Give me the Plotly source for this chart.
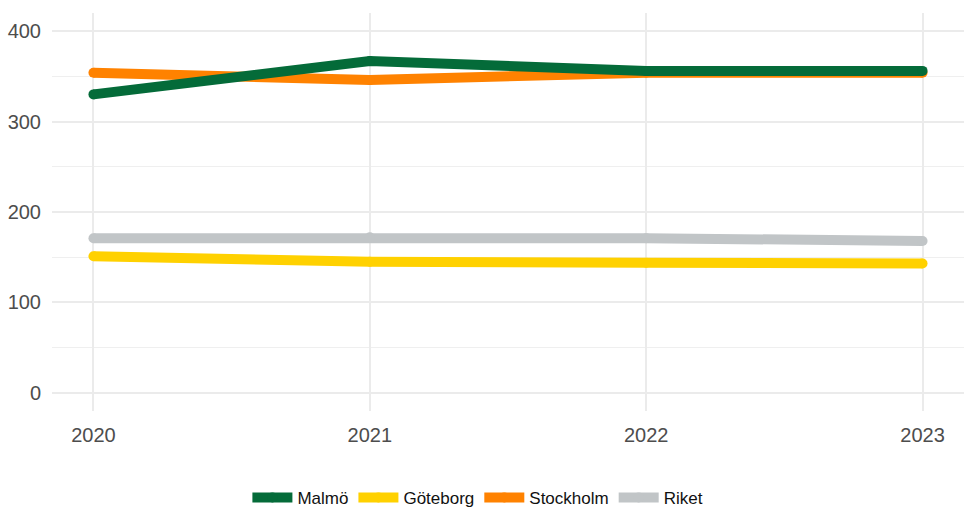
import plotly.graph_objects as go

years = [2020, 2021, 2022, 2023]
series_names = ["Malmö", "Göteborg", "Stockholm", "Riket"]
malmo = [330, 367, 356, 356]
goteborg = [151, 145, 144, 143]
stockholm = [354, 346, 354, 354]
riket = [171, 172, 171, 168]
colors = {"Malmö": "#046B39", "Göteborg": "#FFD100", "Stockholm": "#FF8200", "Riket": "#C1C5C7"}
values = {"Malmö": malmo, "Göteborg": goteborg, "Stockholm": stockholm, "Riket": riket}
y_ticks = [0, 100, 200, 300, 400]

fig = go.Figure()
# draw order: Riket, Stockholm, Göteborg, Malmö (Malmö on top)
for name in ["Riket", "Stockholm", "Göteborg", "Malmö"]:
    fig.add_trace(go.Scatter(
        x=years, y=values[name], name=name, mode="lines+markers",
        line=dict(color=colors[name], width=10),
        marker=dict(color=colors[name], size=10, line=dict(width=0)),
    ))

fig.update_layout(
    width=964, height=508,
    margin=dict(l=52, r=0, t=13, b=97, autoexpand=False),
    plot_bgcolor="white", paper_bgcolor="white",
    font=dict(family="Liberation Sans, Arial, sans-serif", size=20, color="#4d4d4d"),
    showlegend=True,
    legend=dict(orientation="h", traceorder="reversed", x=0.467, xanchor="center",
                y=-0.2186, yanchor="middle", font=dict(size=17, color="#111111"),
                itemwidth=40),
    xaxis=dict(range=[2019.85, 2023.15], tickvals=years, ticktext=[str(y) for y in years],
               showgrid=True, gridcolor="#ebebeb", gridwidth=2, zeroline=False,
               showline=False, ticks="", ticklabelstandoff=10, fixedrange=True),
    yaxis=dict(range=[-20, 420], tickvals=y_ticks, showgrid=True, gridcolor="#ebebeb",
               gridwidth=2, zeroline=False, showline=False, ticks="", ticklabelstandoff=10,
               minor=dict(tickvals=[50, 150, 250, 350], showgrid=True, gridcolor="#efefef", gridwidth=1)),
)

fig.write_html("out.html", config={"displayModeBar": False},
               post_script="document.body.style.margin='0';")
